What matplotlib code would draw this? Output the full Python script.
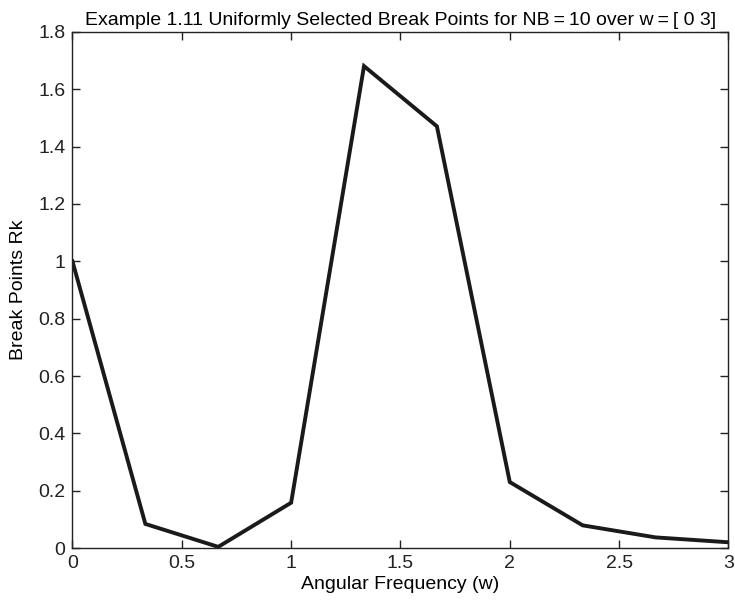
import numpy as np
import matplotlib
matplotlib.use("Agg")
import matplotlib.pyplot as plt

# break point data (uniform spacing over w = [0 3], NB = 10)
w_points  = [0, 1/3, 2/3, 1, 4/3, 5/3, 2, 7/3, 8/3, 3]
rk_values = [1.0, 0.084, 0.004, 0.158, 1.681, 1.471, 0.23, 0.079, 0.037, 0.02]

x_ticks = [0, 0.5, 1, 1.5, 2, 2.5, 3]
x_tick_labels = ["0", "0.5", "1", "1.5", "2", "2.5", "3"]
y_ticks = [0, 0.2, 0.4, 0.6, 0.8, 1, 1.2, 1.4, 1.6, 1.8]
y_tick_labels = ["0", "0.2", "0.4", "0.6", "0.8", "1", "1.2", "1.4", "1.6", "1.8"]

plt.rcParams["font.family"] = ["Liberation Sans", "DejaVu Sans"]
plt.rcParams["font.size"] = 14

fig = plt.figure(figsize=(7.35, 6.06), dpi=100)
ax = fig.add_axes([0.0986, 0.0957, 0.8925, 0.8515])

ax.plot(w_points, rk_values, color="#1a1a1a", linewidth=2.8, solid_joinstyle="miter")

ax.set_xlim(0, 3)
ax.set_ylim(0, 1.8)
ax.set_xticks(x_ticks)
ax.set_xticklabels(x_tick_labels)
ax.set_yticks(y_ticks)
ax.set_yticklabels(y_tick_labels)
ax.tick_params(direction="in", length=6, width=1, top=True, right=True,
               colors="#222222", pad=5)
for s in ax.spines.values():
    s.set_linewidth(1)
    s.set_color("#222222")

ax.set_title("Example 1.11 Uniformly Selected Break Points for NB\u2009=\u200910 over w\u2009=\u2009[ 0 3]",
             fontsize=14, pad=5)
ax.set_xlabel("Angular Frequency (w)", labelpad=3)
ax.set_ylabel("Break Points Rk", labelpad=8)

fig.savefig("out.png", dpi=100)
